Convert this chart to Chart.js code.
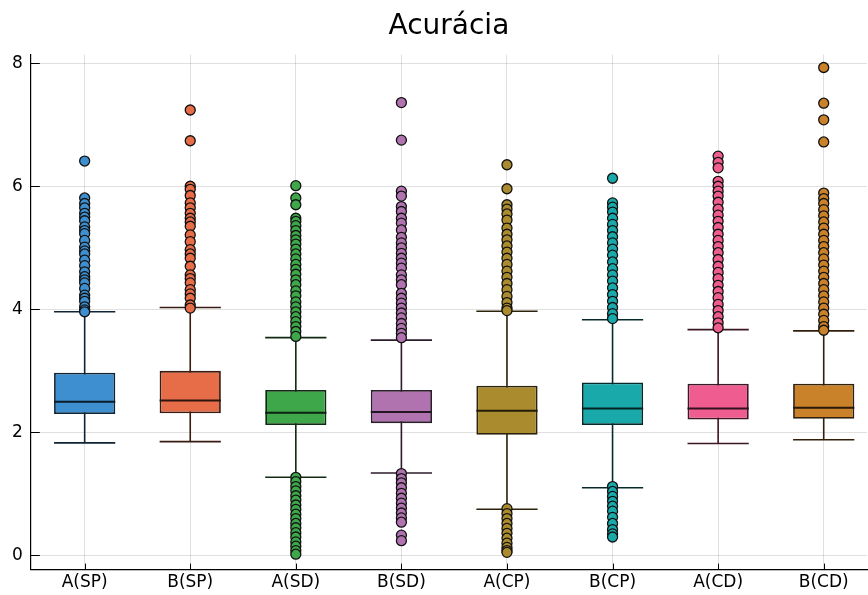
<!DOCTYPE html>
<html>
<head>
<meta charset="utf-8">
<script src="https://cdn.jsdelivr.net/npm/chart.js@4/dist/chart.umd.min.js"></script>
<style>
  html, body { margin: 0; padding: 0; background: #fff; }
  #wrap { width: 868px; height: 595px; }
</style>
</head>
<body>
<div id="wrap"><canvas id="chart"></canvas></div>
<script>
const categories = ["A(SP)", "B(SP)", "A(SD)", "B(SD)", "A(CP)", "B(CP)", "A(CD)", "B(CD)"];
const yTicks = [0, 2, 4, 6, 8];

// box statistics
const lowWhisker = [1.83, 1.85, 1.27, 1.34, 0.75, 1.10, 1.82, 1.88];
const q1 = [2.30, 2.31, 2.12, 2.15, 1.96, 2.12, 2.21, 2.22];
const median = [2.50, 2.52, 2.32, 2.33, 2.35, 2.39, 2.39, 2.40];
const q3 = [2.97, 3.00, 2.69, 2.69, 2.76, 2.81, 2.79, 2.79];
const highWhisker = [3.96, 4.03, 3.54, 3.50, 3.97, 3.83, 3.67, 3.65];

// outliers per group
const outASP = [6.41, 5.81, 5.72, 5.65, 5.56, 5.50, 5.44, 5.34, 5.28, 5.23, 5.12, 5.01, 4.95, 4.90, 4.80, 4.71,
  4.61, 4.53, 4.48, 4.43, 4.34, 4.23, 4.18, 4.13, 4.04, 3.99, 3.96];
const outBSP = [7.24, 6.74, 6.00, 5.95, 5.85, 5.73, 5.65, 5.56, 5.48, 5.42, 5.35, 5.21, 5.10, 4.97, 4.90, 4.83,
  4.70, 4.56, 4.50, 4.43, 4.32, 4.25, 4.18, 4.07, 4.02];
const outASD = [6.01, 5.81, 5.70, 5.48, 5.43, 5.36, 5.28, 5.20, 5.13, 5.06, 4.98, 4.90, 4.82, 4.73, 4.65, 4.57,
  4.48, 4.40, 4.30, 4.22, 4.12, 4.04, 3.96, 3.88, 3.80, 3.72, 3.64, 3.56,
  1.27, 1.20, 1.12, 1.05, 0.97, 0.90, 0.82, 0.75, 0.67, 0.60, 0.52, 0.45, 0.37, 0.30, 0.22, 0.15, 0.08, 0.02];
const outBSD = [7.36, 6.75, 5.92, 5.84, 5.67, 5.59, 5.48, 5.40, 5.29, 5.17, 5.08, 5.00, 4.91, 4.83, 4.75, 4.67,
  4.56, 4.48, 4.40, 4.26, 4.18, 4.10, 4.02, 3.94, 3.86, 3.77, 3.69, 3.61, 3.54,
  1.33, 1.25, 1.18, 1.10, 1.01, 0.93, 0.85, 0.77, 0.69, 0.61, 0.54, 0.33, 0.24];
const outACP = [6.35, 5.96, 5.70, 5.63, 5.55, 5.45, 5.32, 5.22, 5.13, 5.03, 4.93, 4.83, 4.73, 4.62, 4.52, 4.42,
  4.32, 4.21, 4.11, 4.02, 3.98,
  0.76, 0.68, 0.60, 0.52, 0.44, 0.36, 0.28, 0.20, 0.13, 0.08, 0.05];
const outBCP = [6.13, 5.73, 5.66, 5.58, 5.48, 5.38, 5.28, 5.18, 5.08, 4.98, 4.88, 4.77, 4.66, 4.56, 4.46, 4.35,
  4.24, 4.13, 4.03, 3.93, 3.85,
  1.12, 1.04, 0.96, 0.88, 0.80, 0.72, 0.62, 0.52, 0.42, 0.35, 0.30];
const outACD = [6.49, 6.39, 6.30, 6.08, 6.00, 5.92, 5.84, 5.74, 5.63, 5.53, 5.43, 5.33, 5.22, 5.12, 5.02, 4.92,
  4.81, 4.70, 4.60, 4.50, 4.39, 4.29, 4.19, 4.08, 3.98, 3.88, 3.78, 3.70];
const outBCD = [7.93, 7.35, 7.08, 6.72, 5.89, 5.80, 5.72, 5.62, 5.52, 5.42, 5.32, 5.22, 5.12, 5.02, 4.92, 4.82,
  4.72, 4.62, 4.52, 4.42, 4.32, 4.22, 4.12, 4.02, 3.92, 3.82, 3.72, 3.66];
const outliers = [outASP, outBSP, outASD, outBSD, outACP, outBCP, outACD, outBCD];

const colors = ["#3d8fd0", "#e76d48", "#3ea74a", "#b073b0", "#aa8c2f", "#19a9aa", "#ef5c8f", "#c9812a"];

function darker(hex, f) {
  const n = parseInt(hex.slice(1), 16);
  const r = Math.round(((n >> 16) & 255) * f);
  const g = Math.round(((n >> 8) & 255) * f);
  const b = Math.round((n & 255) * f);
  return `rgb(${r},${g},${b})`;
}

const font = "'DejaVu Sans', sans-serif";

const boxPlugin = {
  id: "boxParts",
  beforeDatasetsDraw(chart) {
    const ctx = chart.ctx;
    const y = chart.scales.y;
    const bars = chart.getDatasetMeta(0).data;
    ctx.save();
    ctx.lineWidth = 1.6;
    bars.forEach((bar, i) => {
      const half = bar.width / 2;
      ctx.strokeStyle = darker(colors[i], 0.25);
      ctx.beginPath();
      ctx.moveTo(bar.x, y.getPixelForValue(lowWhisker[i]));
      ctx.lineTo(bar.x, y.getPixelForValue(highWhisker[i]));
      [lowWhisker[i], highWhisker[i]].forEach(v => {
        const py = y.getPixelForValue(v);
        ctx.moveTo(bar.x - half, py);
        ctx.lineTo(bar.x + half, py);
      });
      ctx.stroke();
    });
    ctx.restore();
  },
  afterDatasetDraw(chart, args) {
    if (args.index !== 0) return;
    const ctx = chart.ctx;
    const y = chart.scales.y;
    ctx.save();
    ctx.lineWidth = 2;
    args.meta.data.forEach((bar, i) => {
      const half = bar.width / 2;
      const py = y.getPixelForValue(median[i]);
      ctx.strokeStyle = darker(colors[i], 0.2);
      ctx.beginPath();
      ctx.moveTo(bar.x - half, py);
      ctx.lineTo(bar.x + half, py);
      ctx.stroke();
    });
    ctx.restore();
  },
  afterDraw(chart) {
    // inward tick marks like the original
    const ctx = chart.ctx;
    const { x, y } = chart.scales;
    const area = chart.chartArea;
    ctx.save();
    ctx.strokeStyle = "#000";
    ctx.lineWidth = 1;
    ctx.beginPath();
    yTicks.forEach(v => {
      const py = Math.round(y.getPixelForValue(v)) + 0.5;
      ctx.moveTo(area.left, py);
      ctx.lineTo(area.left + 9, py);
    });
    categories.forEach((_, i) => {
      const px = Math.round(x.getPixelForValue(i)) + 0.5;
      ctx.moveTo(px, area.bottom);
      ctx.lineTo(px, area.bottom - 6);
    });
    ctx.stroke();
    ctx.restore();
  }
};

const datasets = [{
  type: "bar",
  data: categories.map((_, i) => ({ x: i, y: [q1[i], q3[i]] })),
  backgroundColor: colors,
  borderColor: colors.map(c => darker(c, 0.25)),
  borderWidth: 1.8,
  borderSkipped: false,
  barPercentage: 0.58,
  categoryPercentage: 1,
  order: 2
}];

outliers.forEach((vals, i) => {
  datasets.push({
    type: "scatter",
    data: vals.map(v => ({ x: i, y: v })),
    backgroundColor: colors[i],
    borderColor: "#111",
    borderWidth: 1.3,
    pointRadius: 5,
    order: 1
  });
});

new Chart(document.getElementById("chart"), {
  data: { datasets },
  plugins: [boxPlugin],
  options: {
    responsive: true,
    maintainAspectRatio: false,
    animation: false,
    layout: { autoPadding: false, padding: { left: 4, right: 1, top: 0, bottom: -1 } },
    plugins: {
      legend: { display: false },
      tooltip: { enabled: false },
      title: {
        display: true,
        fullSize: false,
        text: "Acurácia",
        color: "#000",
        font: { family: font, size: 28, weight: "normal" },
        padding: { top: 10, bottom: 11 }
      }
    },
    scales: {
      x: {
        type: "linear",
        offset: false,
        min: -0.51,
        max: 7.41,
        afterBuildTicks: scale => { scale.ticks = categories.map((_, i) => ({ value: i })); },
        afterFit: scale => { scale.paddingLeft = 0; scale.paddingRight = 0; },
        ticks: {
          callback: v => categories[v],
          color: "#000",
          font: { family: font, size: 17 },
          padding: 3,
          maxRotation: 0,
          autoSkip: false
        },
        grid: { color: "rgba(0,0,0,0.12)", drawTicks: false, offset: false },
        border: { color: "#000", width: 1.2 }
      },
      y: {
        min: -0.23,
        max: 8.14,
        afterBuildTicks: scale => { scale.ticks = yTicks.map(v => ({ value: v })); },
        ticks: {
          color: "#000",
          font: { family: font, size: 17 },
          padding: 8
        },
        grid: { color: "rgba(0,0,0,0.12)", drawTicks: false },
        border: { color: "#000", width: 1.2 }
      }
    }
  }
});
</script>
</body>
</html>
